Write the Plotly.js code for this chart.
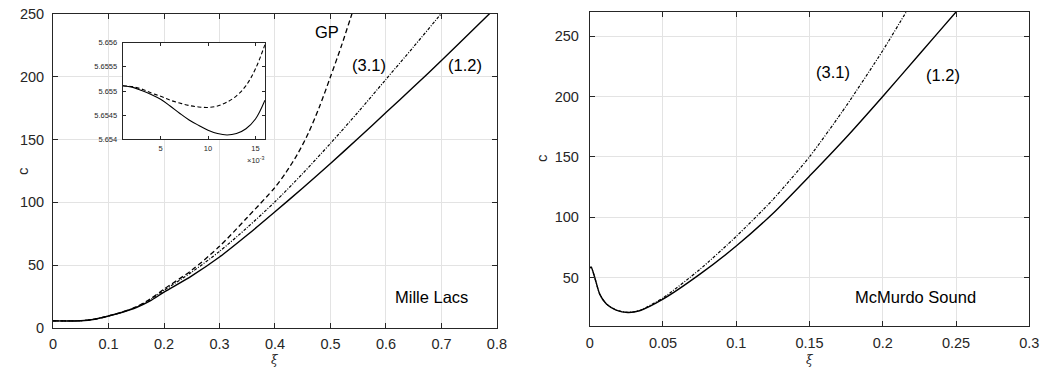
<!DOCTYPE html>
<html>
<head>
<meta charset="utf-8">
<script src="https://cdn.plot.ly/plotly-3.0.1.min.js"></script>
<style>html,body{margin:0;padding:0;background:#fff;}#chart{width:1046px;height:367px;}</style>
</head>
<body>
<div id="chart"></div>
<script>
// ---- Mille Lacs (left panel) ----
const mlXi12 = [0, 0.05, 0.075, 0.1, 0.125, 0.15, 0.175, 0.2, 0.25, 0.3, 0.35, 0.4, 0.45, 0.5, 0.55, 0.6, 0.65, 0.7, 0.75, 0.8];
const mlC12  = [5.655, 5.8, 7.0, 9.5, 12.5, 16.2, 21.5, 28.5, 41.5, 56.5, 74, 92.5, 111.5, 131, 151, 171.5, 192, 213, 234.5, 256];

const mlXi31 = [0, 0.05, 0.075, 0.1, 0.125, 0.15, 0.175, 0.2, 0.25, 0.3, 0.35, 0.4, 0.45, 0.5, 0.55, 0.6, 0.65, 0.7, 0.71];
const mlC31  = [5.655, 5.8, 7.0, 9.6, 12.7, 16.6, 22.5, 30, 44.5, 61, 80, 100.5, 123, 147, 172, 198, 224, 250.5, 256];

const mlXiGP = [0, 0.05, 0.075, 0.1, 0.125, 0.15, 0.175, 0.2, 0.25, 0.3, 0.35, 0.4, 0.42, 0.44, 0.46, 0.48, 0.5, 0.52, 0.54, 0.545];
const mlCGP  = [5.655, 5.8, 7.0, 9.6, 12.8, 16.8, 23, 31, 46, 65, 88, 112, 124, 138, 155, 176, 200, 225, 252, 259];

// ---- Inset (xi in units of 1e-3) ----
const insXi12 = [1, 2, 3, 4, 5, 6, 7, 8, 9, 10, 11, 12, 13, 14, 15, 16];
const insC12  = [5.65511, 5.65508, 5.65501, 5.65493, 5.65483, 5.65469, 5.65454, 5.65440, 5.65429, 5.65419, 5.65412, 5.65409, 5.65412, 5.65422, 5.65442, 5.65481];
const insXiGP = [1, 2, 3, 4, 5, 6, 7, 8, 9, 10, 11, 12, 13, 14, 15, 16];
const insCGP  = [5.65511, 5.65509, 5.65504, 5.65496, 5.65489, 5.65481, 5.65475, 5.65470, 5.65467, 5.65466, 5.65469, 5.65477, 5.65490, 5.65511, 5.65546, 5.65596];

// ---- McMurdo Sound (right panel) ----
const mmXi12 = [0, 0.001, 0.0034, 0.0068, 0.0114, 0.018, 0.026, 0.034, 0.05, 0.075, 0.1, 0.125, 0.15, 0.175, 0.2, 0.225, 0.25, 0.255];
const mmC12  = [58, 58.5, 50, 36.2, 27.9, 23, 21, 22.4, 32, 52.5, 76, 103, 134, 166, 200, 235, 270, 277];
const mmXi31 = [0, 0.001, 0.0034, 0.0068, 0.0114, 0.018, 0.026, 0.034, 0.05, 0.075, 0.1, 0.125, 0.15, 0.175, 0.2, 0.216, 0.22];
const mmC31  = [58, 58.5, 50, 36.2, 27.9, 23, 21, 22.6, 33, 56.5, 84, 114.5, 150, 192, 238, 270, 278];

// tick labels
const mlXTicks = [0, 0.1, 0.2, 0.3, 0.4, 0.5, 0.6, 0.7, 0.8];
const mlYTicks = [0, 50, 100, 150, 200, 250];
const mmXTicks = [0, 0.05, 0.1, 0.15, 0.2, 0.25, 0.3];
const mmYTicks = [50, 100, 150, 200, 250];
const insXTicks = [5, 10, 15];
const insYTicks = [5.654, 5.6545, 5.655, 5.6555, 5.656];

const FONT = 'Liberation Sans, Arial, Helvetica, sans-serif';
const AX = '#262626';
const GRID = '#e3e3e3';

function axisBase(extra) {
  return Object.assign({
    showline: true, linecolor: AX, linewidth: 1, mirror: 'allticks',
    ticks: 'inside', ticklen: 5, tickcolor: AX, tickwidth: 1,
    showgrid: true, gridcolor: GRID, gridwidth: 1, zeroline: false,
    ticklabelstandoff: 5,
    tickfont: {family: FONT, size: 14.5, color: AX}, automargin: false, fixedrange: true
  }, extra);
}

const SM = 0.8;
const DD = '3px,1.5px,1px,1.5px';
const traces = [
  {x: mlXi12, y: mlC12, xaxis: 'x', yaxis: 'y', mode: 'lines', line: {color: '#000', width: 1.4, shape: 'spline', smoothing: SM}, name: '(1.2)'},
  {x: mlXi31, y: mlC31, xaxis: 'x', yaxis: 'y', mode: 'lines', line: {color: '#000', width: 1.2, dash: DD, shape: 'spline', smoothing: SM}, name: '(3.1)'},
  {x: mlXiGP, y: mlCGP, xaxis: 'x', yaxis: 'y', mode: 'lines', line: {color: '#000', width: 1.3, dash: '5px,3px', shape: 'spline', smoothing: SM}, name: 'GP'},
  {x: mmXi12, y: mmC12, xaxis: 'x2', yaxis: 'y2', mode: 'lines', line: {color: '#000', width: 1.4, shape: 'spline', smoothing: 0.6}, name: '(1.2)'},
  {x: mmXi31, y: mmC31, xaxis: 'x2', yaxis: 'y2', mode: 'lines', line: {color: '#000', width: 1.2, dash: DD, shape: 'spline', smoothing: 0.6}, name: '(3.1)'},
  {x: insXi12, y: insC12, xaxis: 'x3', yaxis: 'y3', mode: 'lines', line: {color: '#000', width: 1.1, shape: 'spline'}, name: '(1.2) inset'},
  {x: insXiGP, y: insCGP, xaxis: 'x3', yaxis: 'y3', mode: 'lines', line: {color: '#000', width: 1.1, dash: '4px,2.5px', shape: 'spline'}, name: 'GP inset'}
];

const txt = (size) => ({family: FONT, size: size, color: '#000'});
const ann = (xref, yref, x, y, text, font, extra) => Object.assign({xref, yref, x, y, text, showarrow: false, xanchor: 'center', yanchor: 'middle', font}, extra || {});

const layout = {
  width: 1046, height: 367,
  margin: {l: 0, r: 0, t: 0, b: 0},
  paper_bgcolor: '#fff', plot_bgcolor: '#fff',
  showlegend: false,
  xaxis: axisBase({domain: [0.0507, 0.4751], range: [0, 0.8], tickvals: mlXTicks, ticktext: mlXTicks.map(String), anchor: 'y', ticklabelstandoff: 3}),
  yaxis: axisBase({domain: [0.1063, 0.9619], range: [0, 250], tickvals: mlYTicks, ticktext: mlYTicks.map(String), anchor: 'x'}),
  xaxis2: axisBase({domain: [0.5638, 0.984], range: [0, 0.3], tickvals: mmXTicks, ticktext: mmXTicks.map(String), anchor: 'y2', ticklabelstandoff: 4}),
  yaxis2: axisBase({domain: [0.1125, 0.9673], range: [10, 270], tickvals: mmYTicks, ticktext: mmYTicks.map(String), anchor: 'x2', ticklabelstandoff: 7}),
  xaxis3: axisBase({domain: [0.1173, 0.2533], range: [1, 16], tickvals: insXTicks, ticktext: insXTicks.map(String), anchor: 'y3', showgrid: false, ticklen: 3, ticklabelstandoff: 2, tickfont: {family: FONT, size: 7.5, color: AX}}),
  yaxis3: axisBase({domain: [0.6204, 0.8837], range: [5.654, 5.656], tickvals: insYTicks, ticktext: insYTicks.map(String), anchor: 'x3', showgrid: false, ticklen: 3, ticklabelstandoff: 3, tickfont: {family: FONT, size: 7.5, color: AX}}),
  shapes: [
    {type: 'rect', xref: 'x3', yref: 'y3', x0: 1, x1: 16, y0: 5.654, y1: 5.656, layer: 'below', fillcolor: '#fff', line: {width: 0}}
  ],
  annotations: [
    ann('x', 'y', 0.493, 236, 'GP', txt(16.5)),
    ann('x', 'y', 0.570, 209, '(3.1)', txt(16.5)),
    ann('x', 'y', 0.743, 209, '(1.2)', txt(16.5)),
    ann('x', 'y', 0.682, 25, 'Mille Lacs', txt(16.5)),
    ann('x2', 'y2', 0.1658, 220, '(3.1)', txt(16.5)),
    ann('x2', 'y2', 0.2412, 218, '(1.2)', txt(16.5)),
    ann('x2', 'y2', 0.2222, 34, 'McMurdo Sound', txt(16.5)),
    ann('paper', 'paper', 255/1046, 1 - 160/367, '×10<sup>-3</sup>', {family: FONT, size: 7.5, color: AX}),
    ann('paper', 'paper', 22/1046, 1 - 171/367, 'c', {family: FONT, size: 15, color: AX}, {textangle: -90}),
    ann('paper', 'paper', 542/1046, 1 - 158/367, 'c', {family: FONT, size: 15, color: AX}, {textangle: -90}),
    ann('paper', 'paper', 275/1046, 1 - 359.5/367, '<i>ξ</i>', {family: 'DejaVu Serif, serif', size: 12, color: AX}),
    ann('paper', 'paper', 810/1046, 1 - 359.5/367, '<i>ξ</i>', {family: 'DejaVu Serif, serif', size: 12, color: AX})
  ]
};

Plotly.newPlot('chart', traces, layout, {displayModeBar: false, staticPlot: true});
</script>
</body>
</html>
